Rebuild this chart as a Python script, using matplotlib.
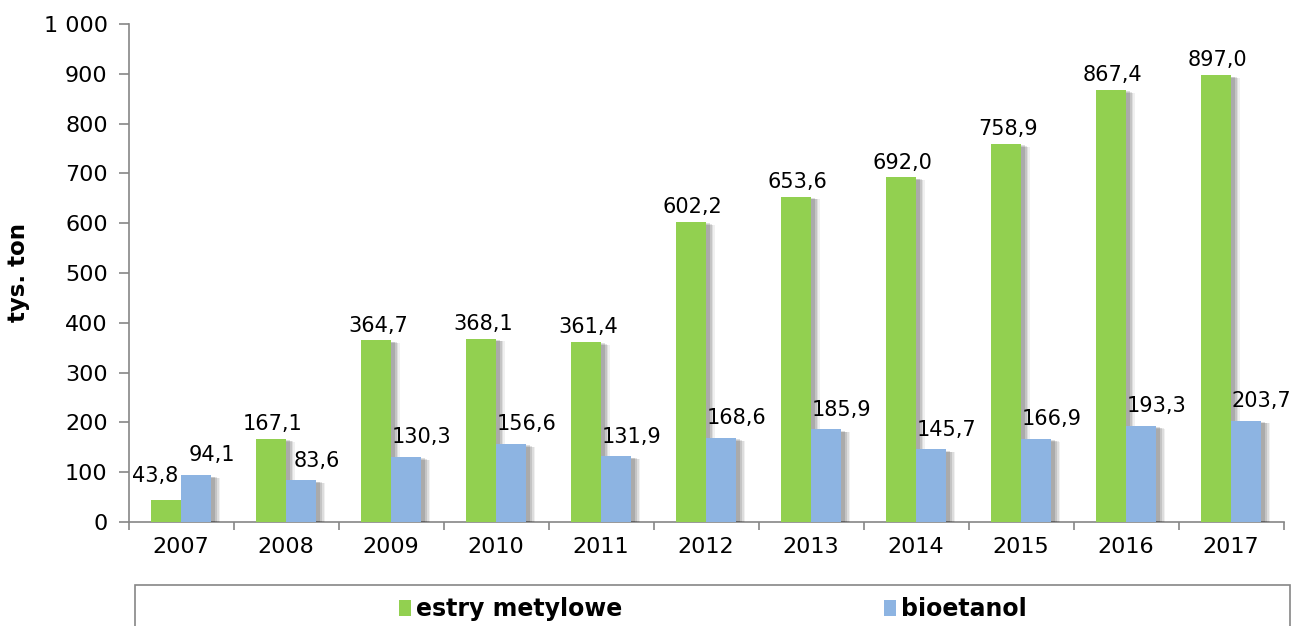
import matplotlib
matplotlib.use("Agg")
import matplotlib.pyplot as plt
import matplotlib.patheffects as pe
from matplotlib.patches import Rectangle
from matplotlib.ticker import FuncFormatter, MultipleLocator
import numpy as np

years = ["2007", "2008", "2009", "2010", "2011", "2012", "2013", "2014", "2015", "2016", "2017"]
estry = [43.8, 167.1, 364.7, 368.1, 361.4, 602.2, 653.6, 692.0, 758.9, 867.4, 897.0]
bioetanol = [94.1, 83.6, 130.3, 156.6, 131.9, 168.6, 185.9, 145.7, 166.9, 193.3, 203.7]
series_names = ["estry metylowe", "bioetanol"]
colors = ["#92D050", "#8DB4E2"]

plt.rcParams["font.family"] = ["DejaVu Sans"]

fig = plt.figure(figsize=(12.97, 6.26), dpi=100)
ax = fig.add_axes([128.5 / 1297, 1 - 522 / 626, 1155 / 1297, 498 / 626])

x = np.arange(len(years))
w = 0.29

# soft drop shadow built from a few translucent offset copies
shadow = [
    pe.SimplePatchShadow(offset=(6.5, -2), shadow_rgbFace="#000000", alpha=0.06),
    pe.SimplePatchShadow(offset=(5.2, -1.8), shadow_rgbFace="#000000", alpha=0.08),
    pe.SimplePatchShadow(offset=(4, -1.5), shadow_rgbFace="#000000", alpha=0.11),
    pe.SimplePatchShadow(offset=(2.6, -1), shadow_rgbFace="#000000", alpha=0.13),
    pe.Normal(),
]

bars1 = ax.bar(x - w / 2, estry, w, color=colors[0], label=series_names[0], zorder=3)
bars2 = ax.bar(x + w / 2, bioetanol, w, color=colors[1], label=series_names[1], zorder=3)
for b in list(bars1) + list(bars2):
    b.set_path_effects(shadow)


def fmt_val(v):
    return f"{v:.1f}".replace(".", ",")


for i, v in enumerate(estry):
    dx, dy = (-8, 10) if i == 0 else (1.5, 3.5)
    ax.annotate(fmt_val(v), (x[i] - w / 2, v), xytext=(dx, dy), textcoords="offset points",
                ha="center", va="bottom", fontsize=15, color="#000000", zorder=5)
for i, v in enumerate(bioetanol):
    ax.annotate(fmt_val(v), (x[i] + w / 2, v), xytext=(11, 7), textcoords="offset points",
                ha="center", va="bottom", fontsize=15, color="#000000", zorder=5)

ax.set_xlim(-0.5, len(years) - 0.5)
ax.set_ylim(0, 1000)
ax.yaxis.set_major_locator(MultipleLocator(100))
ax.yaxis.set_major_formatter(FuncFormatter(lambda v, p: f"{int(v):,}".replace(",", " ")))

ax.set_xticks(x)
ax.set_xticklabels(years)
ax.set_xticks(np.arange(-0.5, len(years)), minor=True)
ax.tick_params(axis="x", which="major", length=0, labelsize=16, pad=11)
ax.tick_params(axis="x", which="minor", length=6, width=1.2, color="#868686", direction="out")
ax.tick_params(axis="y", which="major", length=7, width=1.2, color="#868686", labelsize=16, pad=8)

for side in ["top", "right"]:
    ax.spines[side].set_visible(False)
for side in ["left", "bottom"]:
    ax.spines[side].set_color("#868686")
    ax.spines[side].set_linewidth(1.2)

ax.set_ylabel("tys. ton", fontsize=16.5, fontweight="bold", labelpad=10)

# legend frame along the bottom
fig.patches.append(Rectangle((135 / 1297, -0.05), 1155 / 1297, 1 - 585 / 626 + 0.05,
                             transform=fig.transFigure, fill=False, edgecolor="#868686",
                             linewidth=1.2, zorder=1))
leg = fig.legend(handles=[bars1, bars2], labels=series_names, loc="center",
                 bbox_to_anchor=(713 / 1297, 1 - 609 / 626), ncol=2, frameon=False,
                 prop={"weight": "bold", "size": 17}, handlelength=0.5, handleheight=0.65,
                 handletextpad=0.2, columnspacing=11.1, borderpad=0)
for h in leg.legend_handles:
    h.set_path_effects([])

fig.savefig("out.png", dpi=100)
